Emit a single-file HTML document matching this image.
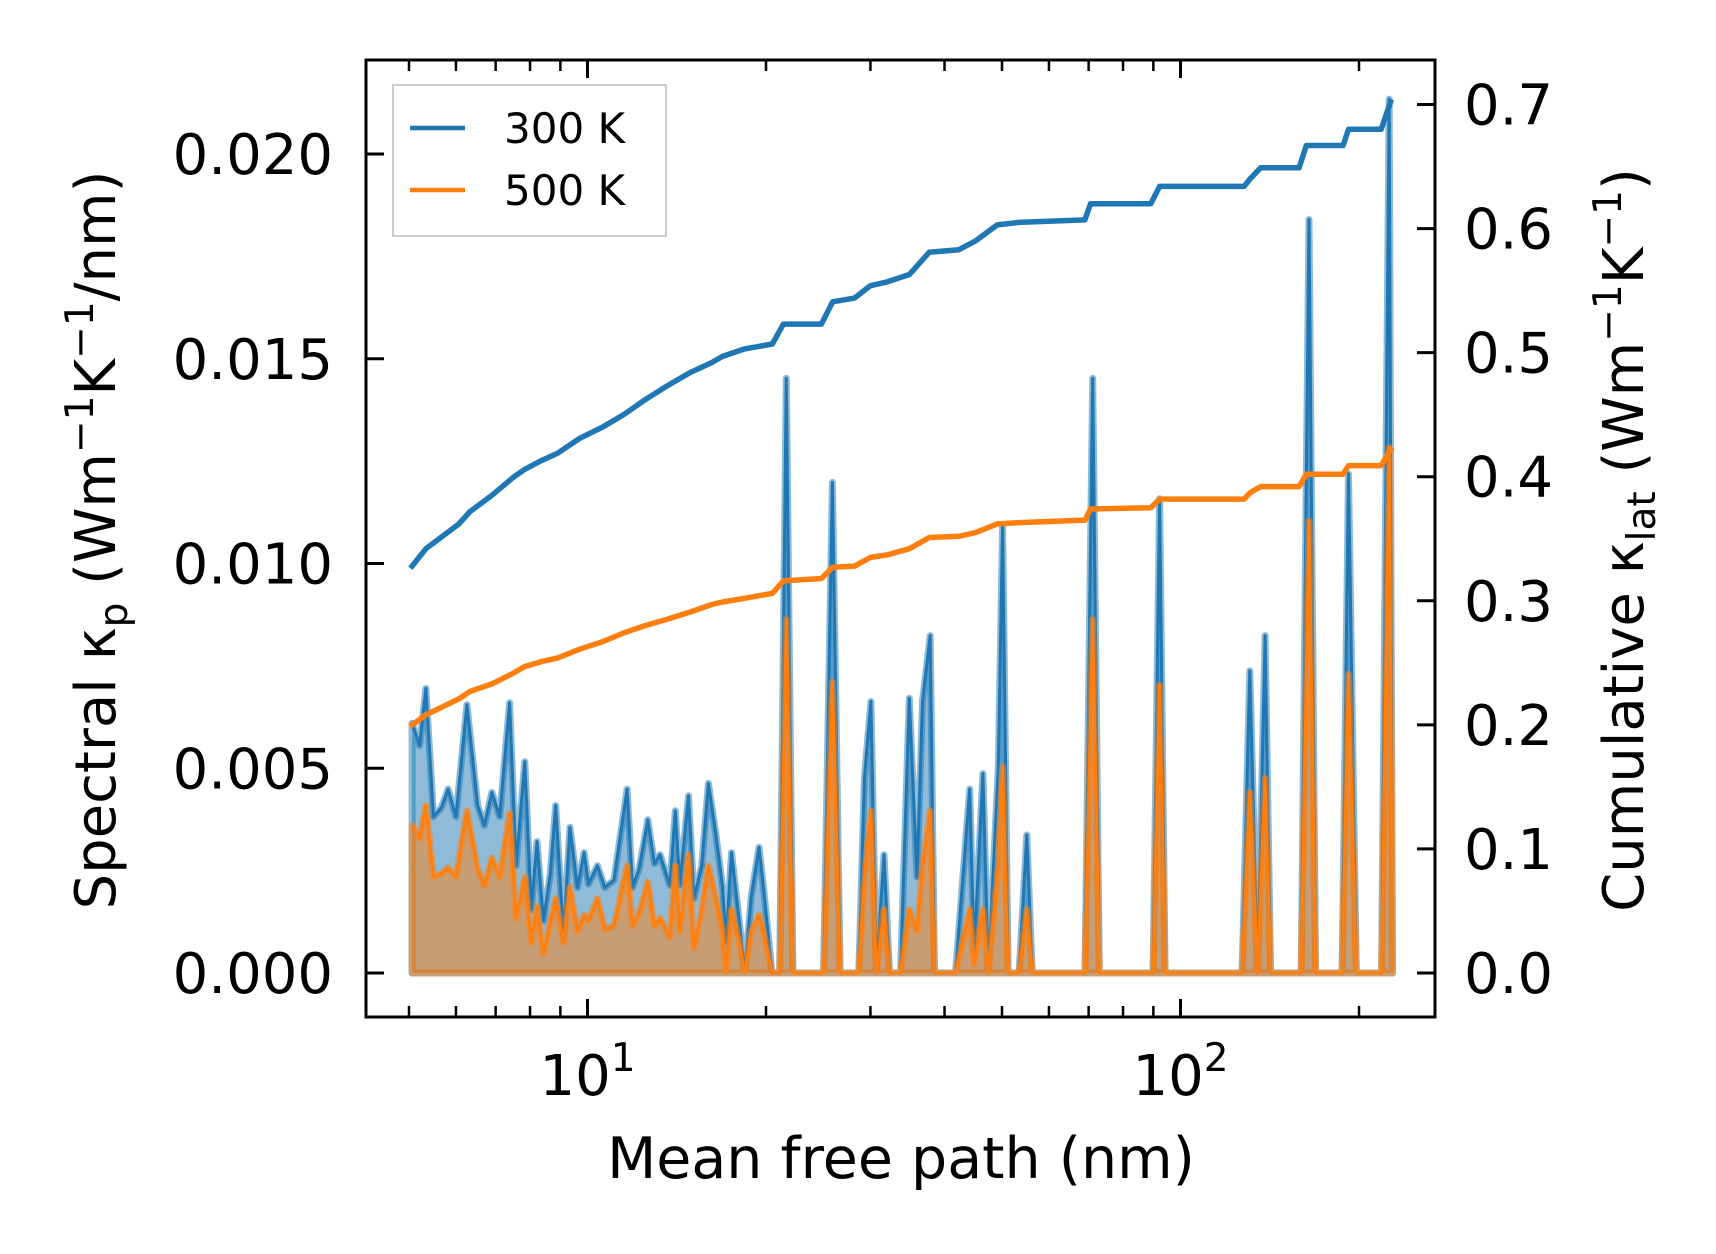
<!DOCTYPE html>
<html><head><meta charset="utf-8"><style>
html,body{margin:0;padding:0;background:#fff}
svg{display:block}
text{font-family:"DejaVu Sans","Liberation Sans",sans-serif;fill:#000}
</style></head><body>
<svg id="chart" width="1716" height="1254" viewBox="0 0 1716 1254" xmlns="http://www.w3.org/2000/svg">
<g id="plot"></g>
<g id="axes"></g>
</svg>
<script>
const specMfp=[5.06,5.21,5.34,5.50,5.67,5.82,6.00,6.26,6.53,6.70,6.90,7.11,7.39,7.58,7.84,8.04,8.22,8.43,8.65,8.84,
9.11,9.34,9.62,9.87,10.04,10.39,10.70,11.08,11.66,11.91,12.22,12.64,12.97,13.25,13.77,14.06,14.31,
14.80,15.12,15.58,15.99,16.47,16.90,17.12,17.49,18.02,18.41,18.88,19.46,19.79,20.47,21.09,21.64,22.20,
24.28,25.01,25.88,26.67,27.71,28.68,29.30,30.05,30.69,31.62,32.31,33.72,34.89,35.95,36.72,37.84,38.48,
41.74,44.10,44.87,46.42,47.42,49.28,50.12,51.20,53.44,55.06,56.23,
69.02,71.11,72.95,89.89,92.22,94.21,127.0,130.9,134.9,138.9,141.9,159.8,164.7,169.0,187.3,192.0,197.9,218.3,224.9,227.8];
const spec300=[6.10,5.56,6.95,3.82,4.04,4.49,3.82,6.55,4.09,3.61,4.41,3.82,6.60,2.62,5.16,1.55,3.21,1.28,2.41,4.09,
0.88,3.56,2.09,2.94,2.17,2.62,2.09,2.27,4.49,2.09,2.54,3.74,2.67,2.89,2.14,3.96,2.14,
4.33,1.82,2.62,4.63,3.37,2.09,0.75,2.94,1.28,0,1.87,3.07,2.14,0,0,14.52,0,
0,0,11.98,0,0,0,4.76,6.63,0,2.89,0,0,6.71,2.35,6.63,8.24,0,
0,4.49,0.48,4.87,0,5.03,10.91,0,0,3.37,0,
0,14.52,0,0,11.58,0,0,7.38,0,8.24,0,0,18.40,0,0,12.19,0,0,21.34,0];
const spec500=[3.61,3.29,4.09,2.35,2.43,2.57,2.35,3.96,2.54,2.14,2.81,2.35,3.90,1.34,2.35,0.75,1.63,0.48,1.23,1.82,
0.75,2.09,1.02,1.42,1.28,1.82,1.07,1.15,2.62,1.15,1.47,2.22,1.15,1.34,0.88,2.62,1.02,
2.89,0.61,1.55,2.62,1.82,1.02,0,1.55,0.75,0,1.02,1.42,1.02,0,0,8.64,0,
0,0,7.11,0,0,0,2.35,3.96,0,1.55,0,0,1.55,1.02,2.62,3.96,0,
0,1.55,0.21,1.55,0,2.62,5.03,0,0,1.55,0,
0,8.64,0,0,7.03,0,0,4.41,0,4.76,0,0,11.04,0,0,7.30,0,0,12.83,0];
const cumMfp=[5.06,5.34,6.07,6.34,6.90,7.52,7.84,8.36,8.91,9.70,10.6,11.5,12.5,13.6,14.9,16.2,16.9,18.4,20.5,21.4,24.8,25.9,28.2,30.0,32.0,34.9,37.7,42.3,45.1,49.1,53.4,69.0,70.5,89.1,92.2,128,131,136.5,158.5,163,188,192,218,226];
const cum300=[0.328,0.342,0.362,0.372,0.385,0.400,0.406,0.413,0.419,0.431,0.440,0.450,0.462,0.473,0.484,0.492,0.497,0.503,0.507,0.523,0.523,0.541,0.544,0.554,0.557,0.563,0.581,0.583,0.590,0.603,0.605,0.607,0.620,0.620,0.634,0.634,0.640,0.649,0.649,0.667,0.667,0.680,0.680,0.702];
const cum500=[0.200,0.208,0.221,0.227,0.233,0.242,0.247,0.251,0.254,0.261,0.267,0.274,0.280,0.285,0.291,0.297,0.299,0.302,0.306,0.316,0.318,0.327,0.328,0.335,0.337,0.342,0.351,0.352,0.355,0.362,0.363,0.365,0.374,0.375,0.382,0.382,0.387,0.392,0.392,0.402,0.402,0.409,0.409,0.422];
const leftTicks=[0,0.005,0.010,0.015,0.020];
const leftTickLabels=["0.000","0.005","0.010","0.015","0.020"];
const rightTicks=[0,0.1,0.2,0.3,0.4,0.5,0.6,0.7];
const rightTickLabels=["0.0","0.1","0.2","0.3","0.4","0.5","0.6","0.7"];
const xMajor=[10,100];
const xMajorExp=["1","2"];
const xMinor=[5,6,7,8,9,20,30,40,50,60,70,80,90,200];

const L=366,R=1435,T=60,B=1017;
const X=v=>587.5+593*(Math.log10(v)-1);
const Y=v=>973-v*40950;
const YR=v=>973-v*1240.7;
const NS="http://www.w3.org/2000/svg";
const plot=document.getElementById('plot'),axes=document.getElementById('axes');
function mk(tag,attrs,parent){const e=document.createElementNS(NS,tag);for(const k in attrs)e.setAttribute(k,attrs[k]);if(parent)parent.appendChild(e);return e;}

function spectral(vals,color,name){
  let pts=specMfp.map((m,i)=>[X(m),Y(vals[i]/1000)]);
  let d='M'+pts.map(p=>p[0].toFixed(1)+','+p[1].toFixed(1)).join(' L');
  let area=d+' L'+pts[pts.length-1][0].toFixed(1)+','+Y(0)+' L'+pts[0][0].toFixed(1)+','+Y(0)+' Z';
  const a=mk('path',{d:area,fill:color,'fill-opacity':0.5,stroke:color,'stroke-opacity':0.5,'stroke-width':7,'stroke-linejoin':'round'},plot);
  
  
  const l=mk('path',{d:d,fill:'none',stroke:color,'stroke-width':3,'stroke-linejoin':'round'},plot);
  
  
}
spectral(spec300,'#1f77b4','spectral-300k');
spectral(spec500,'#ff7f0e','spectral-500k');
function cum(vals,color,name){
  let d='M'+cumMfp.map((m,i)=>X(m).toFixed(1)+','+YR(vals[i]).toFixed(1)).join(' L');
  const l=mk('path',{d:d,fill:'none',stroke:color,'stroke-width':5.5,'stroke-linejoin':'round','stroke-linecap':'square'},plot);
  
  
}
cum(cum300,'#1f77b4','cumulative-300k');
cum(cum500,'#ff7f0e','cumulative-500k');

const fr=mk('rect',{x:L,y:T,width:R-L,height:B-T,fill:'none',stroke:'#000','stroke-width':3},axes);


leftTicks.forEach((v,i)=>{
  const y=Y(v);
  const t=mk('line',{x1:L,x2:L+18,y1:y,y2:y,stroke:'#000','stroke-width':3},axes);
  
  
  const tx=mk('text',{x:333,y:y+20,'text-anchor':'end','font-size':56},axes);
  tx.textContent=leftTickLabels[i];
  
  
});
rightTicks.forEach((v,i)=>{
  const y=YR(v);
  const t=mk('line',{x1:R-18,x2:R,y1:y,y2:y,stroke:'#000','stroke-width':3},axes);
  
  
  const tx=mk('text',{x:1464,y:y+20,'text-anchor':'start','font-size':56},axes);
  tx.textContent=rightTickLabels[i];
  
  
});
xMinor.forEach(v=>{
  const x=X(v);
  [[B,B-11],[T,T+11]].forEach(p=>{
    const t=mk('line',{x1:x,x2:x,y1:p[0],y2:p[1],stroke:'#000','stroke-width':2.5},axes);
    
    
  });
});
xMajor.forEach((v,i)=>{
  const x=X(v);
  [[B,B-18],[T,T+18]].forEach(p=>{
    const t=mk('line',{x1:x,x2:x,y1:p[0],y2:p[1],stroke:'#000','stroke-width':3},axes);
    
    
  });
  const tx=mk('text',{x:x,y:1095,'text-anchor':'middle','font-size':56},axes);
  
  
  const a=mk('tspan',{},tx);a.textContent='10';
  const b=mk('tspan',{'font-size':39,dy:-24},tx);b.textContent=xMajorExp[i];
});
</script>
<svg style="position:absolute;left:0;top:0" width="1716" height="1254" xmlns="http://www.w3.org/2000/svg">
<text x="901" y="1178" text-anchor="middle" font-size="57" style="font-family:'DejaVu Sans','Liberation Sans',sans-serif">Mean free path (nm)</text>
<text transform="translate(115,540) rotate(-90)" text-anchor="middle" font-size="56" style="font-family:'DejaVu Sans','Liberation Sans',sans-serif">Spectral κ<tspan font-size="39" dy="12">p</tspan><tspan dy="-12"> (Wm</tspan><tspan font-size="39" dy="-22">−1</tspan><tspan dy="22">K</tspan><tspan font-size="39" dy="-22">−1</tspan><tspan dy="22">/nm)</tspan></text>
<text transform="translate(1643,540) rotate(-90)" text-anchor="middle" font-size="56" style="font-family:'DejaVu Sans','Liberation Sans',sans-serif">Cumulative κ<tspan font-size="39" dy="12">lat</tspan><tspan dy="-12"> (Wm</tspan><tspan font-size="39" dy="-22">−1</tspan><tspan dy="22">K</tspan><tspan font-size="39" dy="-22">−1</tspan><tspan dy="22">)</tspan></text>
<g>
<rect x="393" y="85" width="273" height="151" fill="#fff" fill-opacity="0.85" stroke="#bbb" stroke-width="1.5"/>
<line x1="410" x2="465" y1="128" y2="128" stroke="#1f77b4" stroke-width="4.5"/>
<text x="504" y="143" font-size="42" style="font-family:'DejaVu Sans','Liberation Sans',sans-serif">300 K</text>
<line x1="410" x2="465" y1="190" y2="190" stroke="#ff7f0e" stroke-width="4.5"/>
<text x="504" y="205" font-size="42" style="font-family:'DejaVu Sans','Liberation Sans',sans-serif">500 K</text>
</g>
</svg>
</body></html>
